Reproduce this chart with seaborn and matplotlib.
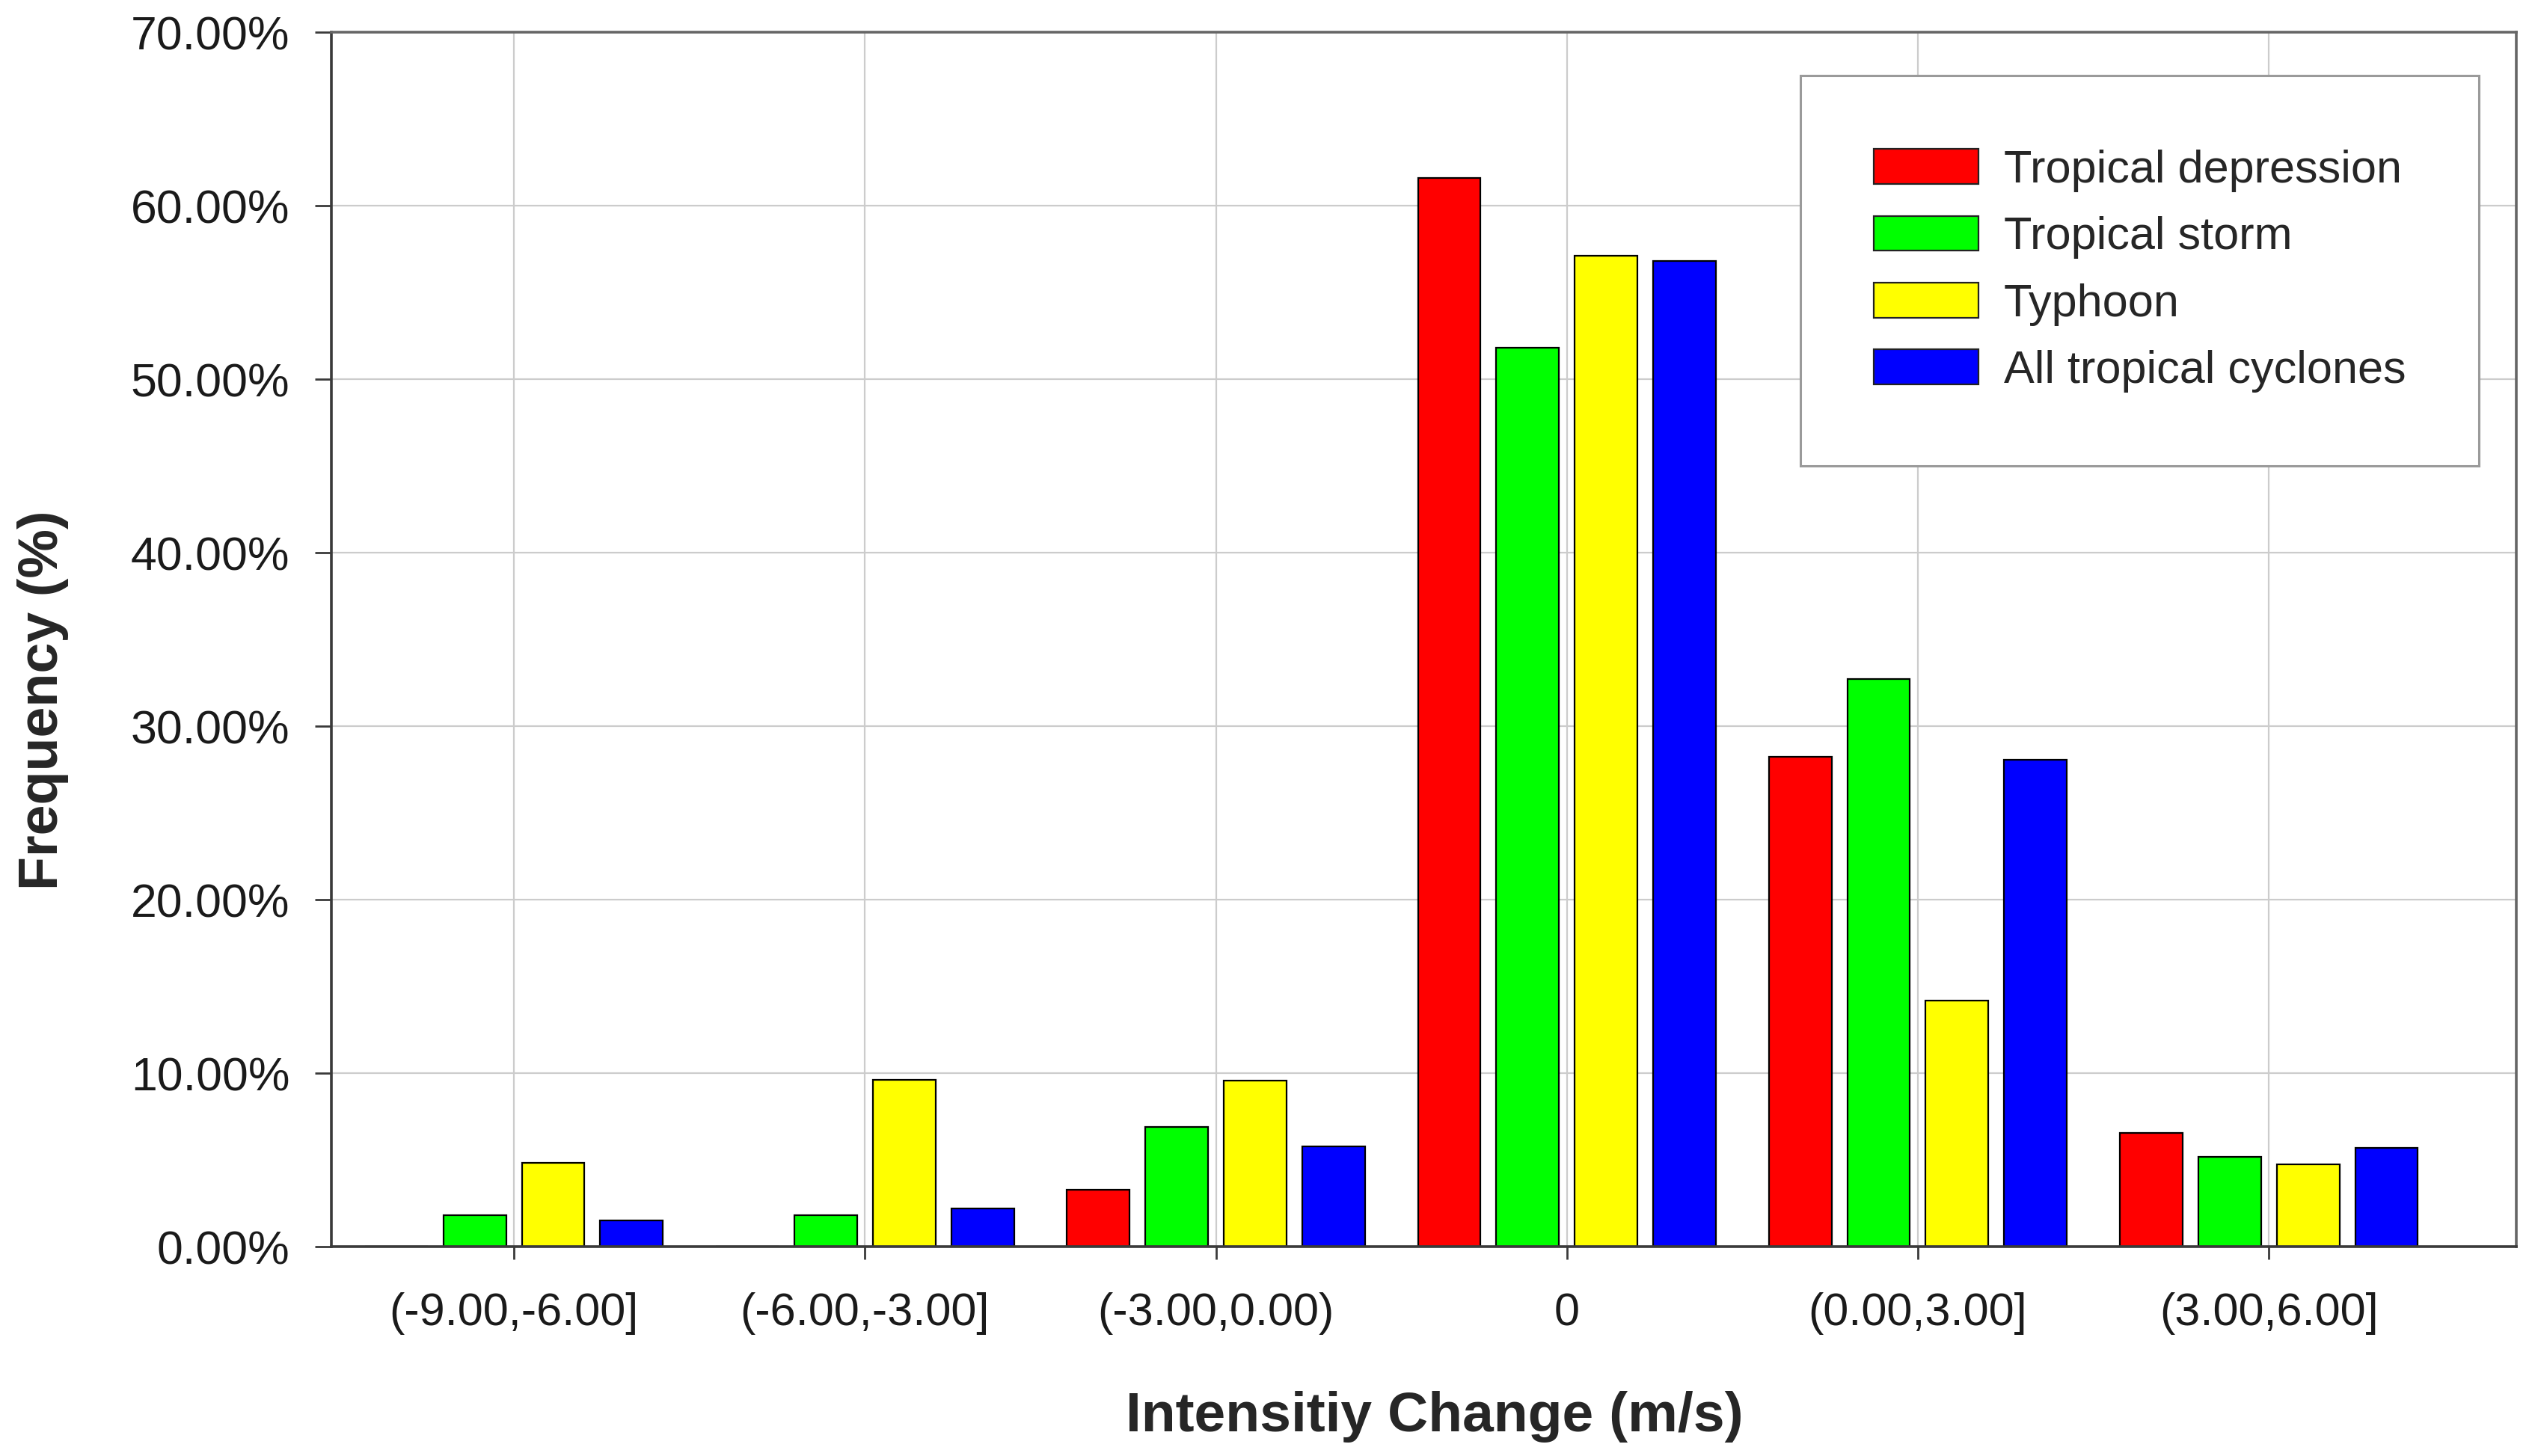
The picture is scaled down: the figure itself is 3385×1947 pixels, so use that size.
import numpy as np
import pandas as pd
import matplotlib
matplotlib.use("Agg")
import matplotlib.pyplot as plt
from matplotlib.ticker import FuncFormatter, MultipleLocator
import seaborn as sns

# data (% frequency)
categories = ["(-9.00,-6.00]", "(-6.00,-3.00]", "(-3.00,0.00)", "0", "(0.00,3.00]", "(3.00,6.00]"]
tropical_depression = [0.0, 0.0, 3.26, 61.6, 28.24, 6.56]
tropical_storm = [1.80, 1.80, 6.89, 51.8, 32.7, 5.16]
typhoon = [4.84, 9.62, 9.59, 57.1, 14.18, 4.76]
all_cyclones = [1.51, 2.18, 5.77, 56.8, 28.05, 5.67]

series_names = ["Tropical depression", "Tropical storm", "Typhoon", "All tropical cyclones"]
series_colors = ["#ff0000", "#00ff00", "#ffff00", "#0000ff"]

# long form table for seaborn
frames = []
for name, vals in zip(series_names, [tropical_depression, tropical_storm, typhoon, all_cyclones]):
    frames.append(pd.DataFrame({"change": categories, "freq": vals, "series": name}))
df = pd.concat(frames, ignore_index=True)

sns.set_style("white")
plt.rcParams['font.family'] = ['Liberation Sans', 'DejaVu Sans']

fig = plt.figure(figsize=(33.85, 19.47), dpi=100)
ax = fig.add_axes([0.1309, 0.1438, 0.8629, 0.8341])

sns.barplot(data=df, x="change", y="freq", hue="series", order=categories,
            hue_order=series_names, palette=series_colors, saturation=1,
            width=0.894, gap=0.2, edgecolor="black", linewidth=1.6, ax=ax)

ax.set_xlim(-0.52, 5.705)
ax.set_ylim(0, 70)
ax.yaxis.set_major_locator(MultipleLocator(10))
ax.yaxis.set_major_formatter(FuncFormatter(lambda v, p: f"{v:.2f}%"))

ax.grid(True, color="#cccccc", linewidth=1.6)
ax.set_axisbelow(True)

for side in ["left", "bottom", "top", "right"]:
    ax.spines[side].set_visible(True)
    ax.spines[side].set_color("#3a3a3a")
    ax.spines[side].set_linewidth(2.6)
ax.spines["top"].set_color("#666666")
ax.spines["right"].set_color("#666666")

ax.tick_params(axis="y", direction="out", length=16, width=2, pad=24,
               labelsize=45, colors="#3a3a3a", labelcolor="#1a1a1a", left=True)
ax.tick_params(axis="x", direction="out", length=12, width=2, pad=32,
               labelsize=44, colors="#3a3a3a", labelcolor="#1a1a1a", bottom=True)

ax.set_xlabel("Intensitiy Change (m/s)", fontsize=54, fontweight="bold", labelpad=54)
ax.set_ylabel("Frequency (%)", fontsize=53, fontweight="bold", labelpad=60)
ax.xaxis.label.set_x(0.505)
ax.yaxis.label.set_y(0.45)

handles, labels = ax.get_legend_handles_labels()
for h in handles:
    h.set_edgecolor("#222222")
    h.set_linewidth(1.6)
leg = ax.legend(handles, labels, loc="upper right", bbox_to_anchor=(0.983, 0.964),
                fontsize=44, frameon=True, fancybox=False, edgecolor="#9a9a9a",
                framealpha=1, borderpad=1.6, labelspacing=0.52, handlelength=2.3,
                handleheight=0.8, handletextpad=0.55, borderaxespad=0)
leg.get_frame().set_linewidth(2.2)

fig.savefig("out.png", dpi=100, facecolor="white")
